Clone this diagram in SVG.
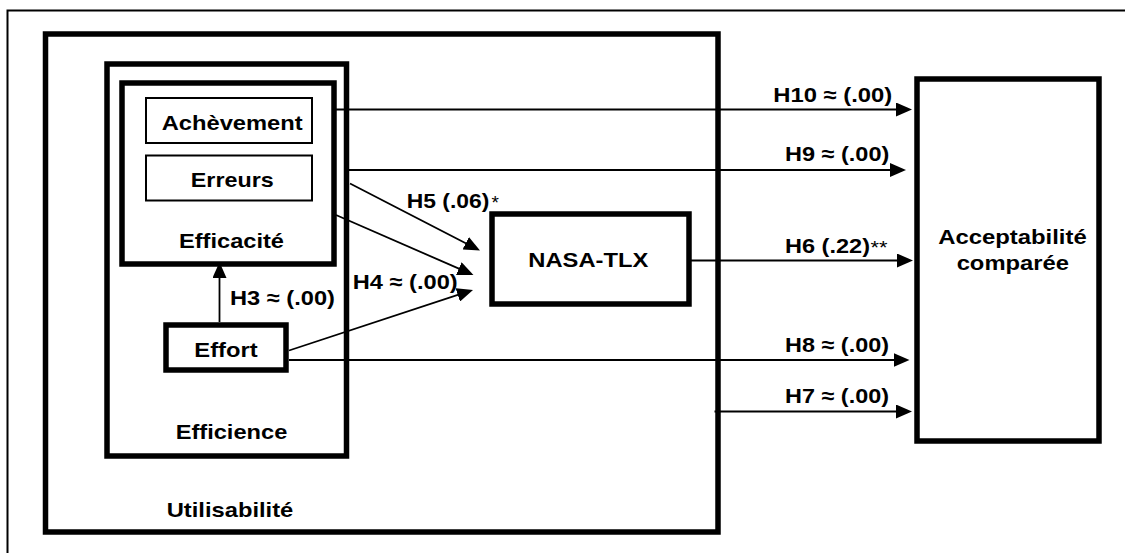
<svg xmlns="http://www.w3.org/2000/svg" width="1125" height="553" viewBox="0 0 1125 553">
<style>
.box{fill:none;stroke:#000;stroke-width:5.5}
.thin{fill:none;stroke:#000;stroke-width:2}
.ln{fill:none;stroke:#000;stroke-width:1.8}
text{font-family:"Liberation Sans",Arial,sans-serif;font-weight:bold;font-size:21px;fill:#000}
.c{text-anchor:middle}
.star{font-weight:normal;font-size:19px}
</style>
<defs>
<marker id="ah" viewBox="0 0 16 14" refX="12" refY="7" markerWidth="16" markerHeight="14" markerUnits="userSpaceOnUse" orient="auto">
<path d="M0,0 L16,7 L0,14 Z" fill="#000"/>
</marker>
</defs>
<rect width="1125" height="553" fill="#fff"/>
<g id="frame">
<path d="M7.5,553 V10.5 H1125" fill="none" stroke="#000" stroke-width="2"/>
</g>
<g id="utilisabilite">
<rect class="box" x="45.5" y="34" width="672.5" height="498"/>
<text class="c" x="230" y="516.7" textLength="126.6" lengthAdjust="spacingAndGlyphs">Utilisabilité</text>
</g>
<g id="efficience">
<rect class="box" x="107" y="64" width="239.5" height="392"/>
<text class="c" x="231.5" y="439.3" textLength="111.6" lengthAdjust="spacingAndGlyphs">Efficience</text>
</g>
<g id="efficacite">
<rect class="box" x="122" y="83" width="212" height="181"/>
<text class="c" x="231.5" y="248.3" textLength="105" lengthAdjust="spacingAndGlyphs">Efficacité</text>
</g>
<g id="achevement">
<rect class="thin" x="146" y="98" width="166" height="45"/>
<text class="c" x="232.2" y="130" textLength="141" lengthAdjust="spacingAndGlyphs">Achèvement</text>
</g>
<g id="erreurs">
<rect class="thin" x="146" y="155.5" width="166" height="45"/>
<text class="c" x="232.3" y="187.3" textLength="83" lengthAdjust="spacingAndGlyphs">Erreurs</text>
</g>
<g id="effort">
<rect class="box" x="166" y="325" width="120" height="45"/>
<text class="c" x="226" y="356.7" textLength="63.3" lengthAdjust="spacingAndGlyphs">Effort</text>
</g>
<g id="nasa">
<rect class="box" x="492" y="214" width="197" height="90"/>
<text class="c" x="588.3" y="266.7" textLength="120" lengthAdjust="spacingAndGlyphs">NASA-TLX</text>
</g>
<g id="acceptabilite">
<rect class="box" x="917" y="79" width="182" height="362"/>
<text class="c" x="1012.5" y="244.3" textLength="148.4" lengthAdjust="spacingAndGlyphs">Acceptabilité</text>
<text class="c" x="1012.8" y="270" textLength="112.3" lengthAdjust="spacingAndGlyphs">comparée</text>
</g>
<g id="connectors">
<line class="ln" x1="219.5" y1="322" x2="219.5" y2="266" marker-end="url(#ah)"/>
<line class="ln" x1="336" y1="109.5" x2="908" y2="109.5" marker-end="url(#ah)"/>
<line class="ln" x1="349" y1="170" x2="902" y2="170" marker-end="url(#ah)"/>
<line class="ln" x1="691" y1="260.5" x2="909" y2="260.5" marker-end="url(#ah)"/>
<line class="ln" x1="289" y1="360" x2="905.5" y2="360" marker-end="url(#ah)"/>
<line class="ln" x1="714.5" y1="411.5" x2="908" y2="411.5" marker-end="url(#ah)"/>
<line class="ln" x1="350" y1="183.5" x2="476.4" y2="248.7" marker-end="url(#ah)"/>
<line class="ln" x1="336" y1="215" x2="469.8" y2="273.4" marker-end="url(#ah)"/>
<line class="ln" x1="289" y1="350.5" x2="469.2" y2="291.2" marker-end="url(#ah)"/>
</g>
<g id="labels">
<text x="230" y="305" textLength="105" lengthAdjust="spacingAndGlyphs">H3 ≈ (.00)</text>
<text x="406.7" y="207.7" textLength="82.6" lengthAdjust="spacingAndGlyphs">H5 (.06)</text>
<text class="star" x="491.5" y="208.5">*</text>
<text x="352.7" y="289" textLength="105" lengthAdjust="spacingAndGlyphs">H4 ≈ (.00)</text>
<text x="773.3" y="101.7" textLength="119" lengthAdjust="spacingAndGlyphs">H10 ≈ (.00)</text>
<text x="785" y="161" textLength="104.3" lengthAdjust="spacingAndGlyphs">H9 ≈ (.00)</text>
<text x="785" y="253.3" textLength="85" lengthAdjust="spacingAndGlyphs">H6 (.22)</text>
<text class="star" x="870.5" y="254" textLength="17" lengthAdjust="spacingAndGlyphs">**</text>
<text x="785" y="352.3" textLength="104" lengthAdjust="spacingAndGlyphs">H8 ≈ (.00)</text>
<text x="785" y="403.3" textLength="104" lengthAdjust="spacingAndGlyphs">H7 ≈ (.00)</text>
</g>
</svg>
